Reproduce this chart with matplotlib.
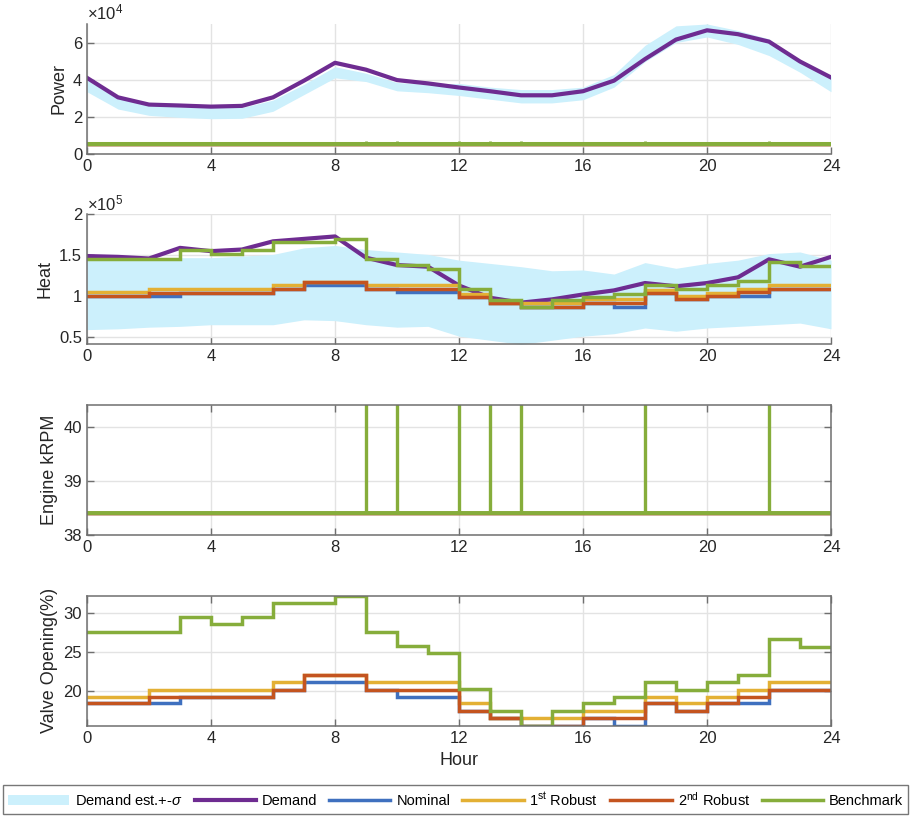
import numpy as np
import matplotlib
matplotlib.use("Agg")
import matplotlib.pyplot as plt
from matplotlib.patches import Patch
from matplotlib.lines import Line2D
from matplotlib.ticker import FuncFormatter

plt.rcParams['font.family'] = ['Liberation Sans', 'DejaVu Sans']
plt.rcParams['mathtext.fontset'] = 'custom'
plt.rcParams['mathtext.rm'] = 'Liberation Sans'
plt.rcParams['mathtext.it'] = 'Liberation Sans:italic'

# ---------------- data ----------------
hours = list(range(25))          # 0..24
step_hours = list(range(24))     # stairs start points

power_demand = [41000, 30500, 26600, 26100, 25500, 25900, 30500, 39500, 49100,
                45400, 39800, 38000, 35800, 33800, 31600, 31600, 33800, 39500,
                51100, 61600, 66600, 64500, 60500, 49800, 41200]
power_upper = [40000, 30000, 26200, 25500, 25000, 25000, 29000, 37500, 47000,
               43500, 38500, 37500, 38000, 36000, 34700, 34700, 36000, 42800,
               58500, 69000, 70000, 66500, 62000, 50000, 42000]
power_lower = [33500, 24200, 20800, 19700, 19000, 19200, 23000, 32000, 41000,
               39000, 34000, 33000, 31500, 29500, 27500, 27500, 29200, 36000,
               49700, 60000, 63000, 59000, 53000, 44000, 33500]
power_base = 5200
power_spike = 7200
spike_hours = [9, 10, 12, 13, 14, 18, 22]

heat_demand = [1.49, 1.48, 1.46, 1.59, 1.55, 1.57, 1.67, 1.70, 1.73, 1.47, 1.38,
               1.36, 1.13, 0.98, 0.92, 0.96, 1.02, 1.07, 1.16, 1.12, 1.16, 1.23,
               1.45, 1.36, 1.48]
heat_upper = [1.45, 1.45, 1.46, 1.47, 1.47, 1.49, 1.51, 1.59, 1.62, 1.57, 1.54,
              1.51, 1.44, 1.40, 1.36, 1.31, 1.32, 1.27, 1.41, 1.34, 1.40, 1.44,
              1.52, 1.54, 1.44]
heat_lower = [0.59, 0.60, 0.62, 0.63, 0.65, 0.65, 0.65, 0.71, 0.70, 0.65, 0.62,
              0.63, 0.51, 0.46, 0.41, 0.46, 0.51, 0.54, 0.61, 0.57, 0.61, 0.63,
              0.65, 0.67, 0.60]
heat_nominal = [1.00, 1.00, 1.00, 1.04, 1.04, 1.04, 1.09, 1.135, 1.135, 1.09, 1.045,
                1.045, 0.99, 0.92, 0.87, 0.87, 0.92, 0.87, 1.04, 0.96, 1.00, 1.00,
                1.09, 1.09]
heat_robust1 = [1.049, 1.049, 1.09, 1.09, 1.09, 1.09, 1.13, 1.177, 1.177, 1.13, 1.13,
                1.13, 1.03, 0.92, 0.92, 0.92, 0.96, 0.96, 1.08, 1.00, 1.04, 1.09,
                1.13, 1.13]
heat_robust2 = [1.00, 1.00, 1.04, 1.04, 1.04, 1.04, 1.09, 1.177, 1.177, 1.09, 1.09,
                1.09, 0.99, 0.92, 0.87, 0.87, 0.92, 0.92, 1.04, 0.96, 1.00, 1.05,
                1.09, 1.09]
heat_bench = [1.46, 1.46, 1.46, 1.56, 1.51, 1.56, 1.66, 1.66, 1.70, 1.46, 1.38,
              1.33, 1.09, 0.95, 0.87, 0.95, 0.99, 1.03, 1.13, 1.09, 1.13, 1.18,
              1.42, 1.37]

rpm_base = 38.4
rpm_spike = 41.0

valve_nominal = [18.47, 18.47, 18.47, 19.32, 19.32, 19.32, 20.2, 21.15, 21.15, 20.2,
                 19.32, 19.32, 17.5, 16.57, 15.63, 15.63, 16.57, 15.63, 18.47, 17.5,
                 18.47, 18.47, 20.2, 20.2]
valve_robust1 = [19.32, 19.32, 20.17, 20.17, 20.17, 20.17, 21.15, 22.07, 22.07, 21.15,
                 21.15, 21.15, 18.47, 16.57, 16.57, 16.57, 17.5, 17.5, 19.32, 18.47,
                 19.32, 20.2, 21.15, 21.15]
valve_robust2 = [18.47, 18.47, 19.32, 19.32, 19.32, 19.32, 20.2, 22.07, 22.07, 20.2,
                 20.2, 20.2, 17.5, 16.57, 15.63, 15.63, 16.57, 16.57, 18.47, 17.5,
                 18.47, 19.32, 20.2, 20.2]
valve_bench = [27.57, 27.57, 27.57, 29.4, 28.5, 29.4, 31.26, 31.26, 32.16, 27.57,
               25.76, 24.83, 20.25, 17.5, 15.63, 17.5, 18.47, 19.32, 21.15, 20.2,
               21.15, 22.07, 26.65, 25.65]

xticks = [0, 4, 8, 12, 16, 20, 24]

# ---------------- style ----------------
C_BAND = '#CCF0FC'
C_DEM = '#6E2C91'
C_NOM = '#3F70BF'
C_R1 = '#E3B034'
C_R2 = '#C4541F'
C_BEN = '#86AD3B'
SPINE = '#6f6f6f'
LW_D = 3.0
LW_S = 2.5


def stairs(ax, y, color, lw=LW_S, scale=1.0):
    xs = step_hours + [24]
    ys = [v * scale for v in y] + [y[-1] * scale]
    ax.plot(xs, ys, drawstyle='steps-post', color=color, lw=lw,
            solid_joinstyle='miter')


def style(ax, box):
    ax.set_xlim(0, 24)
    ax.set_xticks(xticks)
    ax.grid(True, color='#e3e3e3', lw=1.0)
    ax.set_axisbelow(True)
    for s in ['left', 'bottom', 'top', 'right']:
        ax.spines[s].set_color(SPINE)
        ax.spines[s].set_linewidth(1.1)
    if not box:
        ax.spines['top'].set_visible(False)
        ax.spines['right'].set_visible(False)
    ax.tick_params(direction='in', length=5, width=1.0, color=SPINE,
                   labelsize=12, labelcolor='#262626', top=box, right=box)


fig = plt.figure(figsize=(9.12, 8.16), dpi=100)
L, W, H = 0.0954, 0.8158, 0.1593
ax1 = fig.add_axes([L, 0.8113, W, H])
ax2 = fig.add_axes([L, 0.5780, W, H])
ax3 = fig.add_axes([L, 0.3444, W, H])
ax4 = fig.add_axes([L, 0.1107, W, H])

# Power
ax1.fill_between(hours, power_lower, power_upper, color=C_BAND, lw=0)
ax1.plot(hours, power_demand, color=C_DEM, lw=LW_D)
for c in [C_NOM, C_R1, C_R2]:
    ax1.plot([0, 24], [power_base, power_base], color=c, lw=LW_S)
ax1.plot([0, 24], [power_base, power_base], color=C_BEN, lw=LW_S + 0.4)
ax1.vlines(spike_hours, power_base, power_spike, color=C_BEN, lw=2.0)
style(ax1, False)
ax1.set_ylim(0, 70000)
ax1.set_yticks([0, 20000, 40000, 60000])
ax1.yaxis.set_major_formatter(FuncFormatter(lambda v, p: f'{v/1e4:g}'))
ax1.text(0.0, 1.01, r'$\times10^{4}$', transform=ax1.transAxes, fontsize=12,
         color='#262626', va='bottom', ha='left')
ax1.set_ylabel('Power', fontsize=13, color='#262626')

# Heat
s = 1e5
ax2.fill_between(hours, [v * s for v in heat_lower], [v * s for v in heat_upper],
                 color=C_BAND, lw=0)
ax2.plot(hours, [v * s for v in heat_demand], color=C_DEM, lw=LW_D)
stairs(ax2, heat_nominal, C_NOM, scale=s)
stairs(ax2, heat_robust1, C_R1, scale=s)
stairs(ax2, heat_robust2, C_R2, scale=s)
stairs(ax2, heat_bench, C_BEN, scale=s)
style(ax2, False)
ax2.set_ylim(min(heat_lower) * s, 2e5)
ax2.set_yticks([0.5e5, 1e5, 1.5e5, 2e5])
ax2.yaxis.set_major_formatter(FuncFormatter(lambda v, p: f'{v/1e5:g}'))
ax2.text(0.0, 1.01, r'$\times10^{5}$', transform=ax2.transAxes, fontsize=12,
         color='#262626', va='bottom', ha='left')
ax2.set_ylabel('Heat', fontsize=13, color='#262626')

# Engine kRPM
for c in [C_NOM, C_R1, C_R2]:
    ax3.plot([0, 24], [rpm_base, rpm_base], color=c, lw=LW_S)
ax3.vlines(spike_hours, rpm_base, rpm_spike, color=C_BEN, lw=2.4)
ax3.plot([0, 24], [rpm_base, rpm_base], color=C_BEN, lw=LW_S + 0.3)
style(ax3, True)
ax3.set_ylim(38, 40.4)
ax3.set_yticks([38, 39, 40])
ax3.set_ylabel('Engine kRPM', fontsize=13, color='#262626')

# Valve
stairs(ax4, valve_nominal, C_NOM)
stairs(ax4, valve_robust1, C_R1)
stairs(ax4, valve_robust2, C_R2)
stairs(ax4, valve_bench, C_BEN)
style(ax4, True)
allv = valve_nominal + valve_robust1 + valve_robust2 + valve_bench
ax4.set_ylim(min(allv), max(allv))
ax4.set_yticks([20, 25, 30])
ax4.set_ylabel('Valve Opening(%)', fontsize=13, color='#262626')
ax4.set_xlabel('Hour', fontsize=13, color='#262626', labelpad=5)

handles = [Patch(facecolor=C_BAND, edgecolor='none'),
           Line2D([], [], color=C_DEM, lw=LW_D),
           Line2D([], [], color=C_NOM, lw=LW_S),
           Line2D([], [], color=C_R1, lw=LW_S),
           Line2D([], [], color=C_R2, lw=LW_S),
           Line2D([], [], color=C_BEN, lw=LW_S)]
labels = [r'Demand est.+-$\sigma$', 'Demand', 'Nominal',
          r'1$^{\mathrm{st}}$ Robust', r'2$^{\mathrm{nd}}$ Robust', 'Benchmark']
leg = fig.legend(handles, labels, loc='lower left',
                 bbox_to_anchor=(0.003, 0.003, 0.993, 0.033), mode='expand',
                 ncol=6, fontsize=10.5, handlelength=4.2, handletextpad=0.4,
                 borderaxespad=0, borderpad=0.35, fancybox=False, frameon=True)
leg.get_frame().set_edgecolor('#555555')
leg.get_frame().set_linewidth(1.0)

fig.savefig('out.png', dpi=100)
